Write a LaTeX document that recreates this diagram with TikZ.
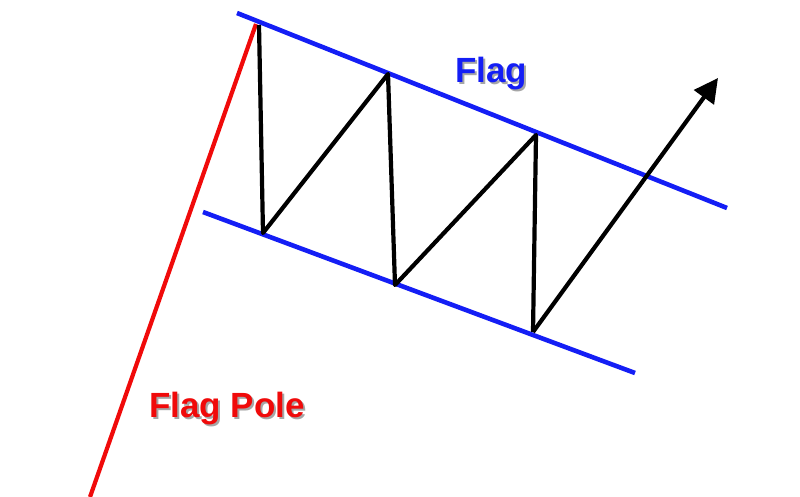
\documentclass[tikz,border=0pt]{standalone}
\usepackage{fontspec}
\setmainfont{Liberation Sans}
\usetikzlibrary{arrows.meta}
\definecolor{flagblue}{RGB}{20,30,245}
\definecolor{polered}{RGB}{240,10,10}
\newcommand{\shadowtext}[2]{\makebox[0pt][l]{\hspace{2pt}\raisebox{-2pt}{\textcolor{black!35}{#2}}}\textcolor{#1}{#2}}
\tikzset{
  bline/.style={draw=flagblue, line width=4.6pt},
  rline/.style={draw=polered, line width=4.2pt},
  kline/.style={draw=black, line width=4.2pt, line join=round},
  lbl/.style={font=\fontsize{35}{40}\selectfont\bfseries, anchor=base, inner sep=0pt}
}
\begin{document}
\begin{tikzpicture}[x=1pt,y=-1pt]
\useasboundingbox (0,0) rectangle (800,497);
% flag pole
\coordinate (p0) at (90,497);
\coordinate (p1) at (256,24);
\draw[rline] (p0) -- (p1);
% channel lines
\coordinate (u0) at (237,13);
\coordinate (u1) at (727,208);
\coordinate (l0) at (203,212);
\coordinate (l1) at (635,373);
\draw[bline] (u0) -- (u1);
\draw[bline] (l0) -- (l1);
% zigzag
\coordinate (z0) at (259,25);
\coordinate (z1) at (263,233);
\coordinate (z2) at (388,74);
\coordinate (z3) at (395,285);
\coordinate (z4) at (536,135);
\coordinate (z5) at (533,332);
\coordinate (z6) at (718,78);
\draw[kline] (z0) -- (z1) -- (z2) -- (z3) -- (z4) -- (z5);
\draw[kline, -{Triangle[length=24pt,width=24pt]}] (z5) -- (z6);
% labels
\node[lbl] (flag) at (491,83) {\shadowtext{flagblue}{Flag}};
\node[lbl] (pole) at (227,417) {\shadowtext{polered}{Flag Pole}};
\end{tikzpicture}
\end{document}
